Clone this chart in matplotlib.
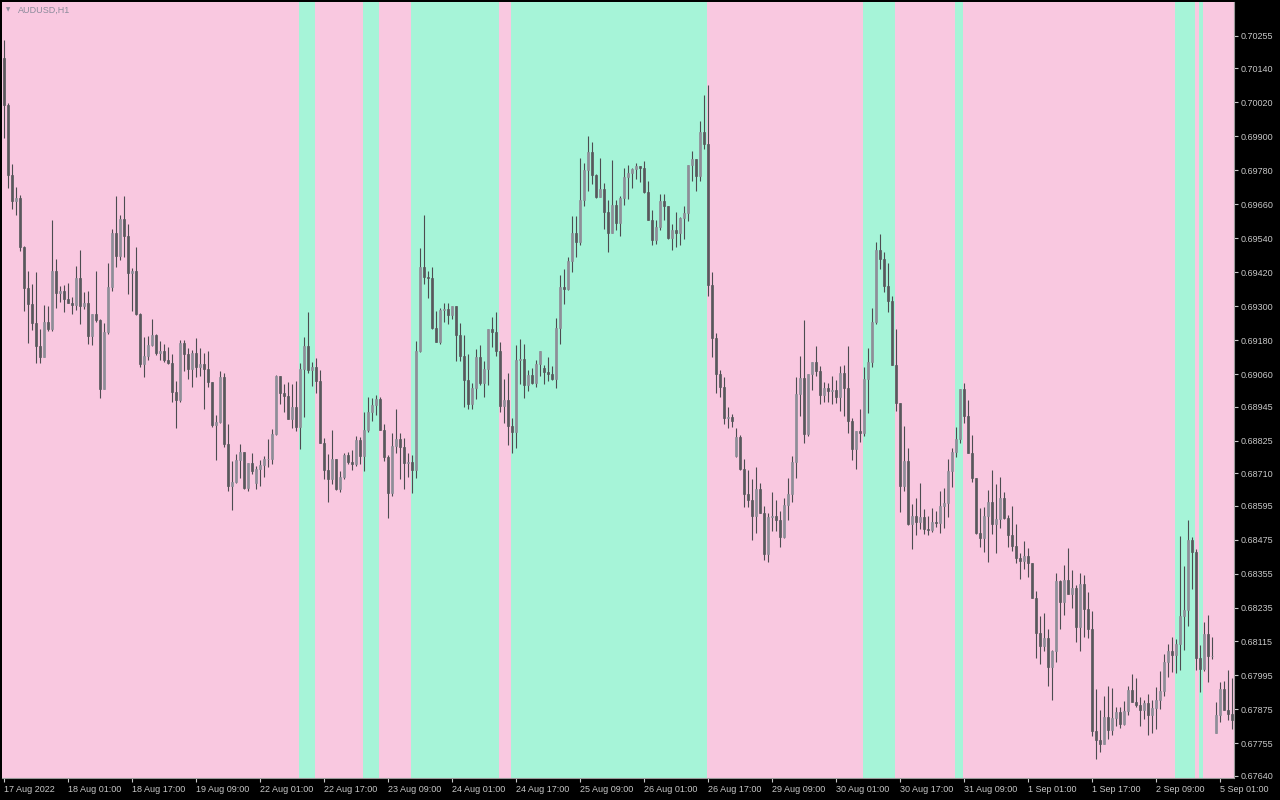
import matplotlib
matplotlib.use("Agg")
import matplotlib.pyplot as plt
import numpy as np

symbol = "AUDUSD,H1"

# AUDUSD hourly candles from 17 Aug 2022 09:00, prices in points (1e-5)
close_pts = [
    70011, 69764, 69673, 69681, 69509, 69364, 69308, 69241, 69159, 69120,
    69244, 69219, 69424, 69347, 69354, 69325, 69311, 69304, 69400, 69301,
    69311, 69195, 69272, 69251, 69007, 69209, 69368, 69559, 69477, 69608,
    69548, 69417, 69424, 69272, 69096, 69124, 69163, 69198, 69134, 69142,
    69110, 69099, 68997, 68968, 69170, 69131, 69078, 69134, 69085, 69096,
    69078, 69032, 68880, 68891, 69050, 68813, 68664, 68679, 68756, 68785,
    68657, 68746, 68717, 68725, 68739, 68760, 68760, 68848, 69053, 68993,
    68982, 68901, 68944, 68873, 69078, 69159, 69074, 69085, 69036, 68816,
    68721, 68689, 68760, 68654, 68696, 68774, 68749, 68742, 68827, 68770,
    68862, 68926, 68951, 68972, 68862, 68767, 68640, 68806, 68831, 68802,
    68746, 68749, 68721, 69142, 69438, 69403, 69400, 69223, 69173, 69286,
    69290, 69269, 69301, 69198, 69124, 69039, 68954, 69011, 69120, 69028,
    69078, 69219, 69209, 69142, 68947, 68968, 68877, 68855, 69110, 69113,
    69021, 69057, 69028, 69096, 69142, 69067, 69060, 69043, 69223, 69368,
    69361, 69460, 69559, 69527, 69675, 69781, 69845, 69764, 69686, 69714,
    69633, 69559, 69658, 69594, 69682, 69756, 69771, 69785, 69795, 69788,
    69703, 69604, 69534, 69580, 69672, 69654, 69541, 69569, 69559, 69612,
    69629, 69799, 69820, 69760, 69916, 69873, 69375, 69187, 69060, 69014,
    68905, 68908, 68894, 68838, 68725, 68636, 68615, 68558, 68654, 68569,
    68424, 68555, 68558, 68544, 68484, 68597, 68636, 68749, 68990, 69046,
    68848, 69060, 69103, 69071, 68986, 69011, 69000, 69004, 68979, 69064,
    69011, 68894, 68795, 68859, 68852, 69043, 69103, 69244, 69498, 69467,
    69371, 69318, 69092, 68958, 68664, 68753, 68530, 68558, 68537, 68555,
    68512, 68509, 68537, 68534, 68594, 68604, 68717, 68785, 68831, 69007,
    68912, 68781, 68693, 68498, 68481, 68558, 68608, 68530, 68548, 68622,
    68551, 68491, 68452, 68410, 68399, 68417, 68392, 68269, 68145, 68099,
    68127, 68025, 68081, 68329, 68255, 68332, 68283, 68304, 68166, 68318,
    68230, 68159, 67799, 67767, 67753, 67848, 67802, 67845, 67866, 67823,
    67869, 67943, 67901, 67890, 67873, 67898, 67855, 67880, 67908, 67940,
    68042, 68081, 68067, 68106, 68205, 68226, 68474, 68431, 68057, 68018,
    68141, 68064, 68064, 67855, 67947, 67873, 67859, 67837,
]

high_pts = [
    70241, 70018, 69802, 69721, 69693, 69513, 69424, 69378, 69421, 69219,
    69304, 69301, 69604, 69467, 69371, 69375, 69382, 69332, 69442, 69498,
    69350, 69354, 69272, 69424, 69255, 69241, 69453, 69573, 69689, 69622,
    69689, 69590, 69435, 69509, 69276, 69191, 69195, 69255, 69202, 69177,
    69166, 69156, 69131, 69036, 69180, 69180, 69152, 69145, 69187, 69152,
    69134, 69142, 69032, 68915, 69071, 69064, 68884, 68753, 68778, 68813,
    68778, 68746, 68781, 68735, 68756, 68770, 68831, 68866, 69057, 69053,
    69025, 69032, 69025, 69036, 69099, 69191, 69279, 69103, 69117, 69074,
    68834, 68778, 68862, 68760, 68717, 68781, 68785, 68792, 68841, 68838,
    68926, 68979, 68975, 68986, 68979, 68884, 68774, 68852, 68937, 68852,
    68834, 68781, 68774, 69177, 69506, 69622, 69424, 69438, 69283, 69294,
    69311, 69311, 69301, 69301, 69241, 69198, 69131, 69028, 69149, 69163,
    69106, 69219, 69262, 69279, 69173, 69043, 69064, 68905, 69163, 69184,
    69166, 69074, 69081, 69110, 69142, 69092, 69120, 69088, 69258, 69410,
    69431, 69474, 69619, 69619, 69824, 69806, 69901, 69880, 69767, 69824,
    69735, 69675, 69817, 69675, 69689, 69788, 69799, 69788, 69806, 69795,
    69813, 69742, 69640, 69604, 69696, 69696, 69654, 69590, 69633, 69615,
    69654, 69799, 69848, 69820, 69954, 70046, 70082, 69421, 69205, 69074,
    69050, 68944, 68919, 68869, 68845, 68760, 68721, 68689, 68732, 68675,
    68594, 68569, 68643, 68615, 68576, 68622, 68693, 68770, 69050, 69124,
    69251, 69060, 69103, 69159, 69088, 69032, 69028, 69053, 69039, 69088,
    69092, 69159, 68905, 68859, 68937, 69085, 69152, 69294, 69527, 69555,
    69491, 69453, 69336, 69219, 68958, 68877, 68799, 68601, 68622, 68675,
    68583, 68558, 68587, 68576, 68647, 68657, 68760, 68799, 68873, 69007,
    69028, 68968, 68845, 68693, 68587, 68590, 68650, 68721, 68672, 68696,
    68643, 68562, 68594, 68530, 68428, 68470, 68445, 68392, 68293, 68205,
    68216, 68159, 68085, 68357, 68332, 68385, 68445, 68368, 68315, 68357,
    68350, 68290, 68223, 67947, 67873, 67922, 67958, 67951, 67883, 67883,
    67905, 67958, 68000, 67986, 67919, 67908, 67929, 67908, 67954, 68011,
    68071, 68106, 68131, 68124, 68488, 68382, 68544, 68484, 68442, 68103,
    68184, 68209, 68131, 67901, 67972, 67976, 68014, 67986,
]

low_pts = [
    69894, 69718, 69643, 69622, 69495, 69283, 69170, 69216, 69099, 69099,
    69120, 69212, 69212, 69294, 69315, 69279, 69311, 69272, 69286, 69237,
    69290, 69166, 69163, 69244, 68975, 69007, 69202, 69354, 69438, 69463,
    69474, 69343, 69283, 69269, 69085, 69050, 69110, 69159, 69127, 69110,
    69103, 69096, 68961, 68869, 68961, 69071, 69043, 69014, 69050, 69053,
    68937, 69014, 68873, 68756, 68887, 68802, 68647, 68580, 68675, 68693,
    68654, 68647, 68707, 68654, 68664, 68696, 68732, 68742, 68845, 68954,
    68926, 68901, 68869, 68859, 68795, 68908, 69064, 69018, 68993, 68816,
    68689, 68608, 68672, 68650, 68643, 68689, 68742, 68721, 68735, 68742,
    68717, 68855, 68894, 68915, 68862, 68753, 68551, 68629, 68781, 68689,
    68654, 68696, 68640, 68693, 69138, 69378, 69329, 69219, 69173, 69166,
    69244, 69237, 69255, 69106, 69106, 68944, 68937, 68937, 68972, 69021,
    68979, 69021, 69156, 69124, 68926, 68887, 68809, 68781, 68799, 69025,
    68975, 69000, 69025, 69014, 69053, 69025, 69036, 69039, 69011, 69166,
    69308, 69357, 69421, 69474, 69516, 69654, 69707, 69732, 69682, 69686,
    69573, 69491, 69559, 69569, 69548, 69658, 69679, 69718, 69749, 69739,
    69700, 69604, 69516, 69520, 69569, 69604, 69537, 69498, 69509, 69516,
    69537, 69601, 69742, 69707, 69742, 69855, 69336, 69120, 68993, 68979,
    68884, 68869, 68873, 68767, 68721, 68590, 68590, 68474, 68498, 68569,
    68403, 68396, 68505, 68505, 68449, 68481, 68544, 68608, 68693, 68912,
    68816, 68841, 69004, 69053, 68954, 68961, 68961, 68954, 68958, 68930,
    68912, 68852, 68756, 68725, 68820, 68841, 68922, 69085, 69237, 69431,
    69350, 69279, 69092, 68930, 68573, 68647, 68527, 68442, 68491, 68512,
    68495, 68491, 68502, 68520, 68498, 68516, 68555, 68661, 68767, 68816,
    68887, 68781, 68679, 68495, 68449, 68431, 68396, 68495, 68428, 68516,
    68548, 68449, 68435, 68392, 68336, 68371, 68343, 68269, 68057, 68035,
    68081, 67958, 67908, 68042, 68159, 68209, 68283, 68233, 68113, 68081,
    68131, 68127, 67781, 67700, 67724, 67753, 67770, 67785, 67816, 67809,
    67820, 67855, 67901, 67883, 67816, 67841, 67785, 67792, 67806, 67876,
    67922, 67990, 68007, 68004, 68014, 68085, 68170, 68300, 68014, 67936,
    68011, 67972, 68053, 67792, 67830, 67873, 67837, 67806,
]

# open = previous close, except where price gapped (first bar, weekends, rollover)
gap_open_pts = {0: 70177, 63: 68675, 135: 69081, 183: 68770, 303: 67792}

# one time label every 16 bars
time_labels = [
    "17 Aug 2022", "18 Aug 01:00", "18 Aug 17:00", "19 Aug 09:00",
    "22 Aug 01:00", "22 Aug 17:00", "23 Aug 09:00", "24 Aug 01:00",
    "24 Aug 17:00", "25 Aug 09:00", "26 Aug 01:00", "26 Aug 17:00",
    "29 Aug 09:00", "30 Aug 01:00", "30 Aug 17:00", "31 Aug 09:00",
    "1 Sep 01:00", "1 Sep 17:00", "2 Sep 09:00", "5 Sep 01:00",
]

price_ticks = [
    0.70255, 0.70140, 0.70020, 0.69900, 0.69780, 0.69660, 0.69540, 0.69420,
    0.69300, 0.69180, 0.69060, 0.68945, 0.68825, 0.68710, 0.68595, 0.68475,
    0.68355, 0.68235, 0.68115, 0.67995, 0.67875, 0.67755, 0.67640,
]

# bar ranges painted green by the indicator (the rest is pink)
green_zones = [(74, 78), (90, 94), (102, 124), (127, 176),
               (215, 223), (238, 240), (293, 298), (299, 300)]

# --- colours
BG = "#000000"
PINK = "#f9c8e0"
GREEN = "#a6f4d8"
BULL = "#8e8e98"
BEAR = "#58585c"
WICK = "#4c4c50"
TXT = "#c8c8c8"

close = np.array(close_pts) / 1e5
high = np.array(high_pts) / 1e5
low = np.array(low_pts) / 1e5
opn = np.r_[close[0], close[:-1]]
for i, v in gap_open_pts.items():
    opn[i] = v / 1e5
high = np.maximum(high, np.maximum(opn, close))
low = np.minimum(low, np.minimum(opn, close))
n = len(close)
x = np.arange(n)

fig = plt.figure(figsize=(12.8, 8), dpi=100, facecolor=BG)
ax = fig.add_axes([2 / 1280, 22 / 800, 1232 / 1280, 776 / 800])
ax.set_facecolor(PINK)

for a, b in green_zones:
    ax.axvspan(a - 0.15, b - 0.15, color=GREEN, lw=0, zorder=0)

ax.vlines(x, low, high, color=WICK, lw=0.8, zorder=2)
up = close >= opn
dn = ~up
ax.bar(x[up], close[up] - opn[up], bottom=opn[up], width=0.72,
       color=BULL, edgecolor=BULL, lw=0.5, zorder=3)
ax.bar(x[dn], opn[dn] - close[dn], bottom=close[dn], width=0.72,
       color=BEAR, edgecolor=BEAR, lw=0.5, zorder=3)

ax.set_xlim(-0.5, n - 0.5)
ax.set_ylim(0.676325, 0.70375)

ax.yaxis.tick_right()
ax.set_yticks(price_ticks)
ax.set_yticklabels([f"{v:.5f}" for v in price_ticks])
ax.set_xticks(np.arange(len(time_labels)) * 16)
ax.set_xticklabels(time_labels, ha="left")
ax.tick_params(colors=TXT, labelsize=6.5, length=3, width=0.8, pad=2)
for lab in ax.get_xticklabels() + ax.get_yticklabels():
    lab.set_fontfamily("Liberation Sans")

for side in ["top", "left"]:
    ax.spines[side].set_visible(False)
for side in ["right", "bottom"]:
    ax.spines[side].set_color("#9a9a9a")
    ax.spines[side].set_linewidth(0.8)

fig.text(6 / 1280, 1 - 10 / 800, "\u25bc", color="#8c8c9c", fontsize=4,
         va="center", ha="left")
fig.text(18 / 1280, 1 - 10 / 800, symbol, color="#8c8c9c", fontsize=6.5,
         va="center", ha="left", family="Liberation Sans")

fig.savefig("out.png", dpi=100, facecolor=BG)
plt.close(fig)
